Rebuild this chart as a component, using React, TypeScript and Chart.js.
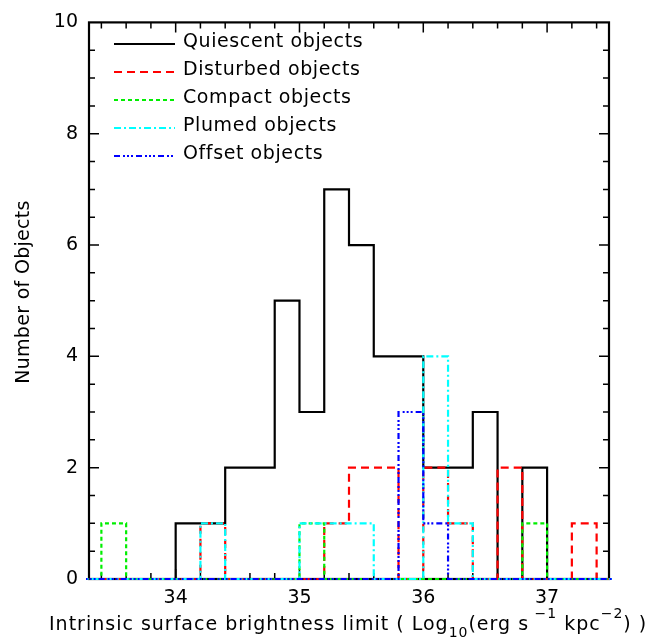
import { useEffect, useRef } from "react"
import { Chart, registerables } from "chart.js"

Chart.register(...registerables)

// left edges of the 0.2-wide bins, plus the closing edge
const binEdges = [
  33.2, 33.4, 33.6, 33.8, 34.0, 34.2, 34.4, 34.6, 34.8, 35.0, 35.2,
  35.4, 35.6, 35.8, 36.0, 36.2, 36.4, 36.6, 36.8, 37.0, 37.2, 37.4,
]
const lastEdge = 37.6

const quiescentCounts = [0, 0, 0, 0, 1, 1, 2, 2, 5, 3, 7, 6, 4, 4, 2, 2, 3, 0, 2, 0, 0, 0]
const disturbedCounts = [0, 0, 0, 0, 0, 1, 0, 0, 0, 0, 1, 2, 2, 0, 2, 1, 0, 2, 0, 0, 1, 0]
const compactCounts = [0, 1, 0, 0, 0, 0, 0, 0, 0, 1, 0, 0, 0, 0, 0, 0, 0, 0, 1, 0, 0, 0]
const plumedCounts = [0, 0, 0, 0, 0, 1, 0, 0, 0, 1, 1, 1, 0, 0, 4, 1, 0, 0, 0, 0, 0, 0]
const offsetCounts = [0, 0, 0, 0, 0, 0, 0, 0, 0, 0, 0, 0, 0, 3, 1, 0, 0, 0, 0, 0, 0, 0]

const xTickValues = [34, 35, 36, 37]
const yTickValues = [0, 2, 4, 6, 8, 10]

const FONT = "DejaVu Sans"

const series = [
  { label: "Quiescent objects", counts: quiescentCounts, color: "#000000", dash: [] as number[] },
  { label: "Disturbed objects", counts: disturbedCounts, color: "#ff0000", dash: [8, 5] },
  { label: "Compact objects", counts: compactCounts, color: "#00ee00", dash: [4, 3] },
  { label: "Plumed objects", counts: plumedCounts, color: "#00ffff", dash: [7, 3, 2, 3] },
  { label: "Offset objects", counts: offsetCounts, color: "#0000ff", dash: [6, 3, 2, 2, 2, 2, 2, 3] },
]

const xTitleParts = [
  { text: "Intrinsic surface brightness limit ( Log", shift: 0 },
  { text: "10", shift: 1 },
  { text: "(erg s", shift: 0 },
  { text: " \u22121", shift: -1 },
  { text: " kpc", shift: 0 },
  { text: "\u22122", shift: -1 },
  { text: ") )", shift: 0 },
]
const yTitle = "Number of Objects"

// inward tick marks on all four sides plus the frame
const framePlugin = {
  id: "frame",
  beforeDatasetsDraw(chart: any) {
    const { ctx, chartArea: a } = chart
    const xs = chart.scales.x
    const ys = chart.scales.y
    ctx.save()
    ctx.strokeStyle = "#000"
    ctx.lineWidth = 2.2
    ctx.strokeRect(a.left, a.top, a.right - a.left, a.bottom - a.top)
    ctx.lineWidth = 1.5
    ctx.beginPath()
    for (let k = 167; k <= 187; k++) {
      const px = xs.getPixelForValue(k / 5)
      const len = k % 5 === 0 ? 10 : 6
      ctx.moveTo(px, a.bottom)
      ctx.lineTo(px, a.bottom - len)
      ctx.moveTo(px, a.top)
      ctx.lineTo(px, a.top + len)
    }
    for (let k = 1; k < 20; k++) {
      const py = ys.getPixelForValue(k / 2)
      const len = k % 4 === 0 ? 10 : 6
      ctx.moveTo(a.left, py)
      ctx.lineTo(a.left + len, py)
      ctx.moveTo(a.right, py)
      ctx.lineTo(a.right - len, py)
    }
    ctx.stroke()
    ctx.restore()
  },
}

const labelsPlugin = {
  id: "labels",
  afterDraw(chart: any) {
    const { ctx } = chart
    ctx.save()
    ctx.fillStyle = "#000"
    ctx.textBaseline = "alphabetic"

    // legend inside the plot
    ctx.letterSpacing = "0.6px"
    ctx.font = `19px "${FONT}"`
    series.forEach((s, i) => {
      const y = 44 + i * 28
      ctx.save()
      ctx.strokeStyle = s.color
      ctx.lineWidth = 2.2
      ctx.setLineDash(s.dash)
      ctx.beginPath()
      ctx.moveTo(114, y)
      ctx.lineTo(175, y)
      ctx.stroke()
      ctx.restore()
      ctx.fillText(s.label, 183, y + 3)
    })

    // x axis title with sub/superscripts
    ctx.letterSpacing = "1px"
    let x = 49
    const base = 630
    xTitleParts.forEach((p) => {
      if (p.shift === 0) {
        ctx.font = `19px "${FONT}"`
        ctx.fillText(p.text, x, base)
      } else {
        ctx.font = `14px "${FONT}"`
        ctx.fillText(p.text, x, base + (p.shift > 0 ? 7 : -12))
      }
      x += ctx.measureText(p.text).width
    })

    // y axis title
    ctx.letterSpacing = "0.3px"
    ctx.font = `19px "${FONT}"`
    ctx.translate(29, 292)
    ctx.rotate(-Math.PI / 2)
    ctx.textAlign = "center"
    ctx.fillText(yTitle, 0, 0)
    ctx.restore()
  },
}

export default function App() {
  const canvasRef = useRef<HTMLCanvasElement>(null)
  const chartRef = useRef<Chart | null>(null)

  useEffect(() => {
    if (!canvasRef.current) return
    if (chartRef.current) chartRef.current.destroy()
    const ctx = canvasRef.current.getContext("2d")
    if (!ctx) return

    chartRef.current = new Chart(ctx, {
      type: "line",
      data: {
        datasets: series.map((s, i) => ({
          label: s.label,
          data: [
            ...binEdges.map((e, j) => ({ x: e, y: s.counts[j] })),
            { x: lastEdge, y: 0 },
          ],
          borderColor: s.color,
          borderWidth: 2.2,
          borderDash: s.dash,
          borderCapStyle: "butt" as const,
          borderJoinStyle: "miter" as const,
          stepped: "before" as const,
          pointRadius: 0,
          fill: false,
          clip: 3,
          order: series.length - i,
        })),
      },
      options: {
        animation: false,
        responsive: true,
        maintainAspectRatio: false,
        events: [],
        layout: { padding: { top: 16, right: 58, left: 0, bottom: 0 } },
        scales: {
          x: {
            type: "linear",
            min: 33.3,
            max: 37.5,
            grid: { display: false, drawTicks: false },
            border: { display: false },
            afterBuildTicks: (scale: any) => {
              scale.ticks = xTickValues.map((v) => ({ value: v }))
            },
            afterFit: (scale: any) => {
              scale.height = 58
            },
            ticks: {
              color: "#000",
              padding: 8,
              maxRotation: 0,
              font: { family: FONT, size: 19 },
              callback: (v: any) => String(v),
            },
          },
          y: {
            type: "linear",
            min: 0,
            max: 10,
            grid: { display: false, drawTicks: false },
            border: { display: false },
            afterBuildTicks: (scale: any) => {
              scale.ticks = yTickValues.map((v) => ({ value: v }))
            },
            afterFit: (scale: any) => {
              scale.width = 89
            },
            ticks: {
              color: "#000",
              padding: 11,
              font: { family: FONT, size: 19 },
              callback: (v: any) => String(v),
            },
          },
        },
        plugins: {
          legend: { display: false },
          tooltip: { enabled: false },
        },
      },
      plugins: [framePlugin, labelsPlugin],
    })

    return () => {
      if (chartRef.current) {
        chartRef.current.destroy()
        chartRef.current = null
      }
    }
  }, [])

  return (
    <div style={{ position: "absolute", left: 0, top: 0, width: 667, height: 637, background: "#fff" }}>
      <canvas ref={canvasRef} />
    </div>
  )
}
